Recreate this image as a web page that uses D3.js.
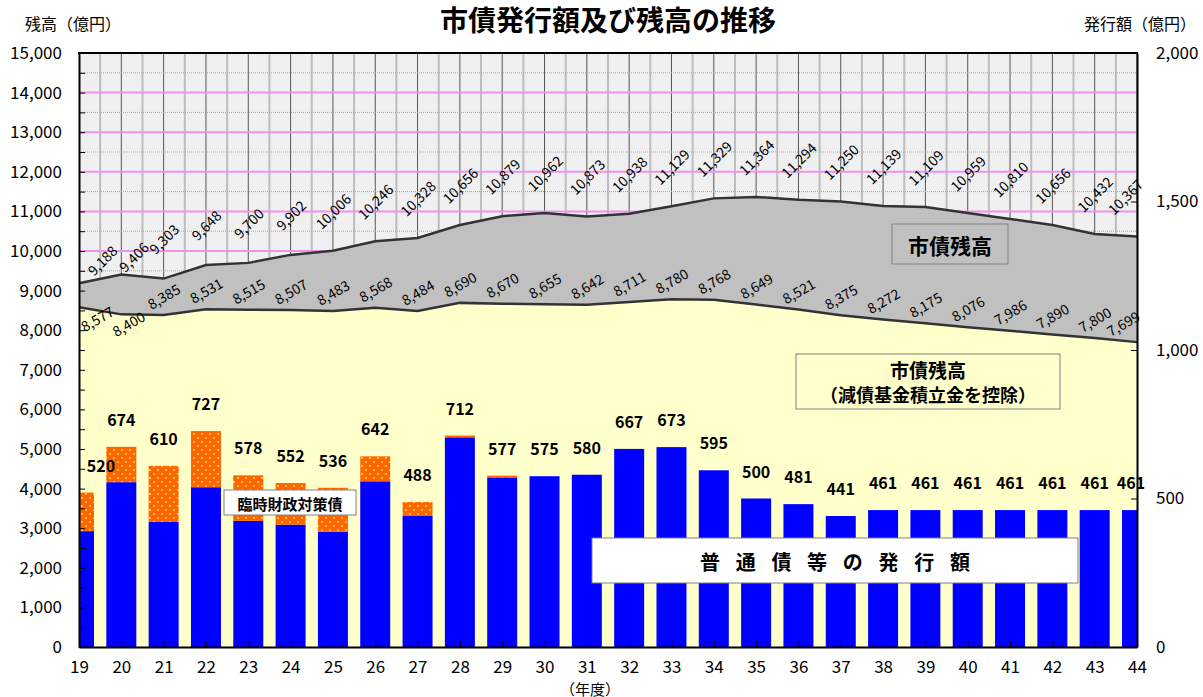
<!DOCTYPE html>
<html>
<head>
<meta charset="utf-8">
<script src="https://cdn.jsdelivr.net/npm/d3@7"></script>
<style>
  body { margin: 0; background: #fff; }
  text { font-family: "Noto Sans CJK JP", "Noto Sans", sans-serif; fill: #000; }
</style>
</head>
<body>
<div id="chart"></div>
<script>
// 年度
var years = ["19","20","21","22","23","24","25","26","27","28","29","30","31",
             "32","33","34","35","36","37","38","39","40","41","42","43","44"];

// 市債残高 (億円)
var balanceTotal = [9188, 9406, 9303, 9648, 9700, 9902, 10006, 10246, 10328, 10656, 10879, 10962, 10873,
                    10938, 11129, 11329, 11364, 11294, 11250, 11139, 11109, 10959, 10810, 10656, 10432, 10367];

// 市債残高 (減債基金積立金を控除)
var balanceNet = [8577, 8400, 8385, 8531, 8515, 8507, 8483, 8568, 8484, 8690, 8670, 8655, 8642,
                  8711, 8780, 8768, 8649, 8521, 8375, 8272, 8175, 8076, 7986, 7890, 7800, 7699];

// 普通債等の発行額
var ordinaryBond = [390, 555, 421, 538, 425, 412, 388, 558, 441, 706, 571, 575, 580,
                    667, 673, 595, 500, 481, 441, 461, 461, 461, 461, 461, 461, 461];

// 臨時財政対策債
var specialBond = [130, 119, 189, 189, 153, 140, 148, 84, 47, 6, 6, 0, 0,
                   0, 0, 0, 0, 0, 0, 0, 0, 0, 0, 0, 0, 0];

// 発行額 合計 (labels)
var issueTotal = [520, 674, 610, 727, 578, 552, 536, 642, 488, 712, 577, 575, 580,
                  667, 673, 595, 500, 481, 441, 461, 461, 461, 461, 461, 461, 461];

var leftTicks = d3.range(0, 15001, 500);
var rightTicks = [0, 500, 1000, 1500, 2000];

var width = 1203;
var height = 697;
var x0 = 79, x1 = 1137, yTop = 53, yBot = 647;

var svg = d3.select("#chart")
    .append("svg")
    .attr("width", width)
    .attr("height", height);

var x = d3.scalePoint().domain(years).range([x0, x1]);
var yL = d3.scaleLinear().domain([0, 15000]).range([yBot, yTop]);
var yR = d3.scaleLinear().domain([0, 2000]).range([yBot, yTop]);
var step = x.step();
var barW = 30;

var defs = svg.append("defs");
defs.append("clipPath").attr("id", "plotClip")
  .append("rect")
    .attr("x", x0).attr("y", yTop)
    .attr("width", x1 - x0).attr("height", yBot - yTop);

var pat = defs.append("pattern")
    .attr("id", "dots")
    .attr("patternUnits", "userSpaceOnUse")
    .attr("width", 8).attr("height", 8);
pat.append("rect").attr("width", 8).attr("height", 8).attr("fill", "#ff6600");
pat.append("rect").attr("x", 1).attr("y", 1).attr("width", 2).attr("height", 2).attr("fill", "#ffc040");
pat.append("rect").attr("x", 5).attr("y", 5).attr("width", 2).attr("height", 2).attr("fill", "#ffc040");

// plot background
svg.append("rect")
    .attr("x", x0).attr("y", yTop)
    .attr("width", x1 - x0).attr("height", yBot - yTop)
    .attr("fill", "#f0f0f0");

// grid
var grid = svg.append("g").attr("clip-path", "url(#plotClip)");

grid.selectAll("line.mid")
    .data(years.slice(0, -1))
    .enter().append("line")
    .attr("class", "mid")
    .attr("x1", d => x(d) + step / 2).attr("x2", d => x(d) + step / 2)
    .attr("y1", yTop).attr("y2", yBot)
    .attr("stroke", "#bdbdbd").attr("stroke-width", 2);

grid.selectAll("line.cat")
    .data(years)
    .enter().append("line")
    .attr("class", "cat")
    .attr("x1", d => x(d)).attr("x2", d => x(d))
    .attr("y1", yTop).attr("y2", yBot)
    .attr("stroke", "#555").attr("stroke-width", 1);

grid.selectAll("line.h")
    .data(d3.range(500, 15000, 500))
    .enter().append("line")
    .attr("class", "h")
    .attr("x1", x0).attr("x2", x1)
    .attr("y1", d => yL(d)).attr("y2", d => yL(d))
    .attr("stroke", d => d % 1000 === 0 ? "#f090f0" : "#ff66ff")
    .attr("stroke-width", d => d % 1000 === 0 ? 2 : 1)
    .attr("stroke-dasharray", d => d % 1000 === 0 ? null : "1,1");

// areas
var balanceData = years.map((d, i) => ({ year: d, total: balanceTotal[i], net: balanceNet[i] }));

var upperArea = d3.area()
    .x(d => x(d.year))
    .y0(d => yL(d.net))
    .y1(d => yL(d.total));

var lowerArea = d3.area()
    .x(d => x(d.year))
    .y0(yBot)
    .y1(d => yL(d.net));

svg.append("path").datum(balanceData).attr("d", upperArea).attr("fill", "#c0c0c0");
svg.append("path").datum(balanceData).attr("d", lowerArea).attr("fill", "#ffffcc");

var lineTotal = d3.line().x(d => x(d.year)).y(d => yL(d.total));
var lineNet = d3.line().x(d => x(d.year)).y(d => yL(d.net));

svg.append("path").datum(balanceData).attr("d", lineTotal)
    .attr("fill", "none").attr("stroke", "#333").attr("stroke-width", 2.5);
svg.append("path").datum(balanceData).attr("d", lineNet)
    .attr("fill", "none").attr("stroke", "#333").attr("stroke-width", 2.5);

// bars
var barData = years.map((d, i) => ({ year: d, ordinary: ordinaryBond[i], special: specialBond[i] }));
var stacked = d3.stack().keys(["ordinary", "special"])(barData);
var barFill = { ordinary: "#0000ff", special: "url(#dots)" };

var barsGroup = svg.append("g").attr("clip-path", "url(#plotClip)");
barsGroup.selectAll("g")
    .data(stacked)
    .enter().append("g")
    .attr("fill", s => barFill[s.key])
    .selectAll("rect")
    .data(s => s)
    .enter().append("rect")
    .attr("x", d => x(d.data.year) - barW / 2)
    .attr("width", barW)
    .attr("y", d => yR(d[1]))
    .attr("height", d => yR(d[0]) - yR(d[1]));

// axes
var leftAxis = d3.axisLeft(yL)
    .tickValues(leftTicks)
    .tickSizeInner(-6).tickSizeOuter(0)
    .tickPadding(17)
    .tickFormat(d => d % 1000 === 0 ? d3.format(",")(d) : "");

var rightAxis = d3.axisRight(yR)
    .tickValues(rightTicks)
    .tickSizeInner(-6).tickSizeOuter(0)
    .tickPadding(19)
    .tickFormat(d3.format(","));

var bottomAxis = d3.axisBottom(x)
    .tickSizeInner(-6).tickSizeOuter(0)
    .tickPadding(14);

function styleAxis(g) {
  g.select(".domain").attr("stroke", "#000").attr("stroke-width", 2);
  g.selectAll(".tick line").attr("stroke", "#000");
  g.selectAll(".tick text")
    .style("font-size", "17px")
    .style("font-family", "'Noto Sans CJK JP', sans-serif")
    .attr("fill", "#000");
}

svg.append("g").attr("transform", `translate(${x0},0)`).call(leftAxis).call(styleAxis);
svg.append("g").attr("transform", `translate(${x1},0)`).call(rightAxis).call(styleAxis);
svg.append("g").attr("transform", `translate(0,${yBot})`).call(bottomAxis).call(styleAxis);

svg.append("line")
    .attr("x1", x0 - 1).attr("x2", x1 + 1)
    .attr("y1", yTop).attr("y2", yTop)
    .attr("stroke", "#000").attr("stroke-width", 2);

// data labels
function clampX(v, lo, hi) { return Math.max(x0 + lo, Math.min(x1 - hi, v)); }

// labels moved by hand in the original chart
var totalNudge = { "19": [23, -23], "20": [12, -18] };
var netNudge = { "19": [18, 11], "20": [7, 9] };

svg.append("g").selectAll("text")
    .data(balanceData)
    .enter().append("text")
    .attr("transform", function(d) {
        var n = totalNudge[d.year];
        var cx = n ? x(d.year) + n[0] : clampX(x(d.year), 22, 12);
        var cy = n ? yL(d.total) + n[1] : yL(d.total) - 40;
        return `translate(${cx},${cy}) rotate(-45)`;
    })
    .attr("text-anchor", "middle")
    .attr("dominant-baseline", "central")
    .style("font-size", "14px")
    .text(d => d3.format(",")(d.total));

svg.append("g").selectAll("text")
    .data(balanceData)
    .enter().append("text")
    .attr("transform", function(d) {
        var n = netNudge[d.year];
        var cx = n ? x(d.year) + n[0] : clampX(x(d.year), 22, 14);
        var cy = n ? yL(d.net) + n[1] : yL(d.net) - 19;
        return `translate(${cx},${cy}) rotate(-30)`;
    })
    .attr("text-anchor", "middle")
    .attr("dominant-baseline", "central")
    .style("font-size", "14px")
    .text(d => d3.format(",")(d.net));

svg.append("g").selectAll("text")
    .data(years)
    .enter().append("text")
    .attr("x", (d, i) => clampX(x(d), 22, 6))
    .attr("y", (d, i) => yR(issueTotal[i]) - 28)
    .attr("text-anchor", "middle")
    .attr("dominant-baseline", "central")
    .style("font-size", "16px")
    .style("font-weight", "bold")
    .text((d, i) => issueTotal[i]);

// legend boxes
svg.append("rect")
    .attr("x", 892).attr("y", 224).attr("width", 116).attr("height", 40)
    .attr("fill", "#c0c0c0").attr("stroke", "#808080");
svg.append("text")
    .attr("x", 950).attr("y", 245)
    .attr("text-anchor", "middle").attr("dominant-baseline", "central")
    .style("font-size", "21px").style("font-weight", "bold")
    .text("市債残高");

svg.append("rect")
    .attr("x", 796).attr("y", 354).attr("width", 264).attr("height", 55)
    .attr("fill", "#ffffcc").attr("stroke", "#808080");
svg.append("text")
    .attr("x", 928).attr("y", 369)
    .attr("text-anchor", "middle").attr("dominant-baseline", "central")
    .style("font-size", "19px").style("font-weight", "bold")
    .text("市債残高");
svg.append("text")
    .attr("x", 928).attr("y", 394)
    .attr("text-anchor", "middle").attr("dominant-baseline", "central")
    .style("font-size", "18px").style("font-weight", "bold")
    .text("（減債基金積立金を控除）");

svg.append("rect")
    .attr("x", 224).attr("y", 490).attr("width", 132).attr("height", 25)
    .attr("fill", "#fff").attr("stroke", "#808080");
svg.append("text")
    .attr("x", 290).attr("y", 503)
    .attr("text-anchor", "middle").attr("dominant-baseline", "central")
    .style("font-size", "15px").style("font-weight", "bold")
    .text("臨時財政対策債");

svg.append("rect")
    .attr("x", 592).attr("y", 538).attr("width", 486).attr("height", 45)
    .attr("fill", "#fff").attr("stroke", "#808080");
var issueChars = "普通債等の発行額".split("");
svg.append("text")
    .attr("y", 561)
    .attr("dominant-baseline", "central")
    .style("font-size", "20px").style("font-weight", "bold")
    .selectAll("tspan")
    .data(issueChars)
    .enter().append("tspan")
    .attr("x", (d, i) => 710 + i * 35.7)
    .attr("text-anchor", "middle")
    .text(d => d);

// titles
svg.append("text")
    .attr("x", 608).attr("y", 19)
    .attr("text-anchor", "middle").attr("dominant-baseline", "central")
    .style("font-size", "28px").style("font-weight", "bold")
    .text("市債発行額及び残高の推移");

svg.append("text")
    .attr("x", 25).attr("y", 23)
    .attr("dominant-baseline", "central")
    .style("font-size", "16px")
    .text("残高（億円）");

svg.append("text")
    .attr("x", 1196).attr("y", 23)
    .attr("text-anchor", "end").attr("dominant-baseline", "central")
    .style("font-size", "16px")
    .text("発行額（億円）");

svg.append("text")
    .attr("x", 590).attr("y", 688)
    .attr("text-anchor", "middle").attr("dominant-baseline", "central")
    .style("font-size", "15px")
    .text("（年度）");
</script>
</body>
</html>
